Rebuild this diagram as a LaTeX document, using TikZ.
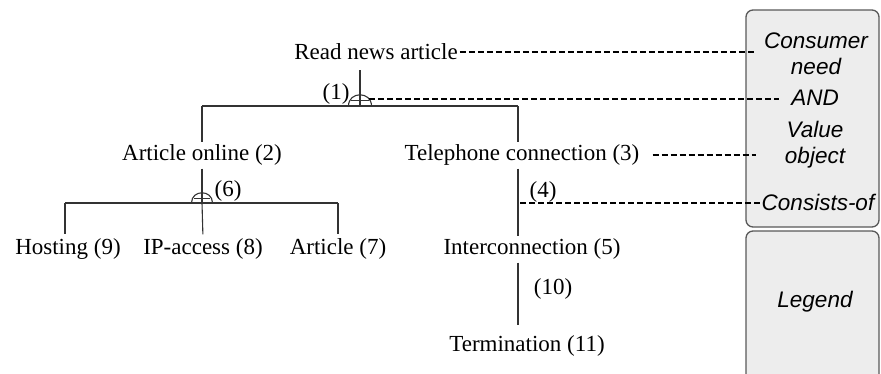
\documentclass[tikz,border=0pt]{standalone}
\usepackage{fontspec}
\setmainfont{Liberation Serif}
\newfontfamily\legendfont{Liberation Sans}
\usetikzlibrary{calc}

\tikzset{
    treeline/.style={draw=black!80,line width=1.1pt},
    refline/.style={draw=black,line width=1.1pt,dash pattern=on 6pt off 3pt},
    panel/.style={rounded corners=7pt,fill=black!7,draw=black!65,line width=1.3pt}
}

\begin{document}
\begin{tikzpicture}[x=1pt,y=-1pt]
\useasboundingbox (0,0) rectangle (881,373);

% legend panel
\begin{scope}
    \clip (0,0) rectangle (881,373);
    \draw[panel] (746,10) rectangle (879,227);
    \draw[panel] (746,231) rectangle (879,400);
\end{scope}

\begin{scope}[every node/.style={inner sep=0pt,align=center,font=\legendfont\itshape\fontsize{22.5}{26}\selectfont}]
    \node (lneed) at (816,54) {Consumer\\need};
    \node (land) at (815,98) {AND};
    \node (lvalue) at (815,145) {Value\\object};
    \node (lcons) at (818,202) {Consists-of};
    \node (llegend) at (815,302) {Legend};
\end{scope}

\begin{scope}[every node/.style={inner sep=0pt,font=\fontsize{23}{27}\selectfont}]
    \node (read) at (376,52) {Read news article};
    \node (ao) at (202,155) {Article online (2)};
    \node (tc) at (522,155) {Telephone connection (3)};
    \node (host) at (68,249) {Hosting (9)};
    \node (ipa) at (203,249) {IP-access (8)};
    \node (art) at (338,249) {Article (7)};
    \node (ic) at (532,249) {Interconnection (5)};
    \node (term) at (527,346) {Termination (11)};

    \node (lab1) at (336,94) {(1)};
    \node (lab6) at (228,191) {(6)};
    \node (lab4) at (543,192) {(4)};
    \node (lab10) at (553,289) {(10)};
\end{scope}

\coordinate (and1) at (360,106);
\coordinate (and1tag) at (369,99);
\coordinate (barL) at (202,106);
\coordinate (barR) at (518,106);
\coordinate (and2) at (202,203);
\coordinate (hostTop) at (65,203);
\coordinate (artTop) at (338,203);
\coordinate (cons) at (518,203);

% AND marks
\foreach \j/\r in {and1/11.5, and2/10.5} {
    \draw[treeline] ($(\j)+(-\r,0)$) .. controls ($(\j)+(-\r,-1.3*\r)$) and ($(\j)+(\r,-1.3*\r)$) .. ($(\j)+(\r,0)$);
    \draw[treeline] ($(\j)+(-0.75*\r,-0.45*\r)$) -- ($(\j)+(0.75*\r,-0.45*\r)$);
}

\begin{scope}[every edge/.style={treeline}]
    \path [-] (read.south -| and1) edge [shorten <=10pt] (and1);
    \path [-] (barL) edge (barR);
    \path [-] (barL) edge [shorten >=2pt] (ao.north -| barL);
    \path [-] (barR) edge [shorten >=2pt] (tc.north -| barR);

    \path [-] (ao.south) edge [shorten <=3pt] (and2);
    \path [-] (hostTop) edge (artTop);
    \path [-] (hostTop) edge [shorten >=4pt] (host.north -| hostTop);
    \path [-] (and2) edge [shorten >=4pt] (ipa.north);
    \path [-] (artTop) edge [shorten >=4pt] (art.north);

    \path [-] (tc.south -| barR) edge [shorten <=3pt, shorten >=2pt] (ic.north -| barR);
    \path [-] (ic.south -| barR) edge [shorten <=3pt, shorten >=10pt] (term.north -| barR);
\end{scope}

\begin{scope}[every edge/.style={refline}]
    \path [-] (read.east) edge [shorten <=2pt, shorten >=8pt] (read.east -| lneed.west);
    \path [-] (and1tag) edge [shorten >=12pt] (and1tag -| land.west);
    \path [-] (tc.east) edge [shorten <=13pt, shorten >=8pt] (tc.east -| lneed.west);
    \path [-] (cons) edge [shorten <=2pt] (cons -| lcons.west);
\end{scope}
\end{tikzpicture}
\end{document}
